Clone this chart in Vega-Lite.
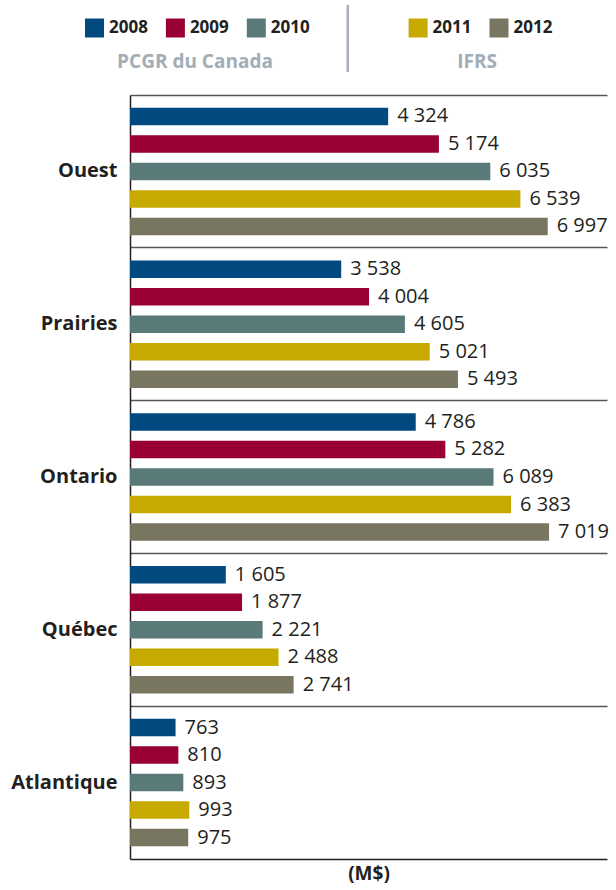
{
  "$schema": "https://vega.github.io/schema/vega-lite/v6.json",
  "padding": {"left": 10, "top": 3, "right": 0, "bottom": 0},
  "background": "white",
  "spacing": 21,
  "config": {
    "font": "Open Sans",
    "view": {"stroke": null},
    "locale": {"number": {"decimal": ",", "thousands": "\u00a0", "grouping": [3], "currency": ["", " $"]}}
  },
  "resolve": {"scale": {"x": "independent", "y": "independent", "color": "independent"}},
  "vconcat": [
    {
      "width": 477,
      "height": 67,
      "layer": [
        {
          "data": {"values": [{}]},
          "mark": {"type": "rule", "color": "#a7b1b9", "strokeWidth": 2.5},
          "encoding": {
            "x": {"datum": "|", "type": "nominal", "bandPosition": 0.13,
              "scale": {"type": "band", "domain": ["2008", "2009", "2010", "|", "2011", "2012"], "range": [-35.5, 449.9], "paddingInner": 0, "paddingOuter": 0},
              "axis": null}
          }
        },
        {
          "data": {"values": [{"year": "2008"}, {"year": "2009"}, {"year": "2010"}, {"year": "2011"}, {"year": "2012"}]},
          "layer": [
            {
              "mark": {"type": "square", "size": 361, "opacity": 1, "filled": true},
              "encoding": {
                "x": {"field": "year", "type": "nominal", "bandPosition": 0, "axis": null},
                "y": {"datum": "items", "type": "nominal", "scale": {"type": "point", "domain": ["items", "titles"], "range": [23, 57], "padding": 0}, "axis": null},
                "color": {"field": "year", "type": "nominal", "scale": {"domain": ["2008", "2009", "2010", "2011", "2012"], "range": ["#004a80", "#990033", "#597a79", "#c6aa00", "#787660"]}, "legend": null}
              }
            },
            {
              "mark": {"type": "text", "align": "left", "baseline": "middle", "dx": 14.5, "fontSize": 17, "fontWeight": "bold", "color": "#231f20"},
              "encoding": {
                "x": {"field": "year", "type": "nominal", "bandPosition": 0, "axis": null},
                "y": {"datum": "items", "type": "nominal", "axis": null},
                "text": {"field": "year", "type": "nominal"}
              }
            }
          ]
        },
        {
          "data": {"values": [{"title": "PCGR du Canada"}]},
          "mark": {"type": "text", "align": "center", "baseline": "middle", "dx": 19.6, "fontSize": 19, "fontWeight": "bold", "color": "#a2adb7"},
          "encoding": {
            "x": {"datum": "2009", "type": "nominal", "bandPosition": 0, "axis": null},
            "y": {"datum": "titles", "type": "nominal", "axis": null},
            "text": {"field": "title", "type": "nominal"}
          }
        },
        {
          "data": {"values": [{"title": "IFRS"}]},
          "mark": {"type": "text", "align": "center", "baseline": "middle", "dx": 59, "fontSize": 19, "fontWeight": "bold", "color": "#a2adb7"},
          "encoding": {
            "x": {"datum": "2011", "type": "nominal", "bandPosition": 0, "axis": null},
            "y": {"datum": "titles", "type": "nominal", "axis": null},
            "text": {"field": "title", "type": "nominal"}
          }
        }
      ]
    },
    {
      "width": 477,
      "height": 764,
      "data": {"values": [
        {"region": "Ouest", "year": "2008", "value": 4324},
        {"region": "Ouest", "year": "2009", "value": 5174},
        {"region": "Ouest", "year": "2010", "value": 6035},
        {"region": "Ouest", "year": "2011", "value": 6539},
        {"region": "Ouest", "year": "2012", "value": 6997},
        {"region": "Prairies", "year": "2008", "value": 3538},
        {"region": "Prairies", "year": "2009", "value": 4004},
        {"region": "Prairies", "year": "2010", "value": 4605},
        {"region": "Prairies", "year": "2011", "value": 5021},
        {"region": "Prairies", "year": "2012", "value": 5493},
        {"region": "Ontario", "year": "2008", "value": 4786},
        {"region": "Ontario", "year": "2009", "value": 5282},
        {"region": "Ontario", "year": "2010", "value": 6089},
        {"region": "Ontario", "year": "2011", "value": 6383},
        {"region": "Ontario", "year": "2012", "value": 7019},
        {"region": "Québec", "year": "2008", "value": 1605},
        {"region": "Québec", "year": "2009", "value": 1877},
        {"region": "Québec", "year": "2010", "value": 2221},
        {"region": "Québec", "year": "2011", "value": 2488},
        {"region": "Québec", "year": "2012", "value": 2741},
        {"region": "Atlantique", "year": "2008", "value": 763},
        {"region": "Atlantique", "year": "2009", "value": 810},
        {"region": "Atlantique", "year": "2010", "value": 893},
        {"region": "Atlantique", "year": "2011", "value": 993},
        {"region": "Atlantique", "year": "2012", "value": 975}
      ]},
      "encoding": {
        "y": {"field": "region", "type": "nominal", "sort": ["Ouest", "Prairies", "Ontario", "Québec", "Atlantique"],
          "scale": {"type": "band", "paddingInner": 0, "paddingOuter": 0},
          "axis": {"title": null, "bandPosition": 0, "ticks": false, "grid": true, "gridColor": "#555555", "gridWidth": 1.3, "domainColor": "#231f20", "domainWidth": 1.5, "labelFontSize": 20, "labelFontWeight": "bold", "labelColor": "#231f20", "labelPadding": 13}},
        "yOffset": {"field": "year", "type": "nominal", "scale": {"paddingInner": 0.364, "paddingOuter": 0.46}},
        "x": {"field": "value", "type": "quantitative", "scale": {"domain": [0, 7990], "nice": false, "zero": true},
          "axis": {"title": "(M$)", "labels": false, "ticks": false, "grid": false, "domainColor": "#231f20", "domainWidth": 1.5, "titleFontSize": 19, "titleFontWeight": "bold", "titleColor": "#231f20", "titlePadding": 5}}
      },
      "layer": [
        {
          "mark": {"type": "bar"},
          "encoding": {
            "color": {"field": "year", "type": "nominal", "scale": {"domain": ["2008", "2009", "2010", "2011", "2012"], "range": ["#004a80", "#990033", "#597a79", "#c6aa00", "#787660"]}, "legend": null}
          }
        },
        {
          "mark": {"type": "text", "align": "left", "baseline": "middle", "dx": 9, "fontSize": 20, "color": "#231f20"},
          "encoding": {
            "text": {"field": "value", "type": "quantitative", "format": ",d"}
          }
        }
      ]
    }
  ]
}
